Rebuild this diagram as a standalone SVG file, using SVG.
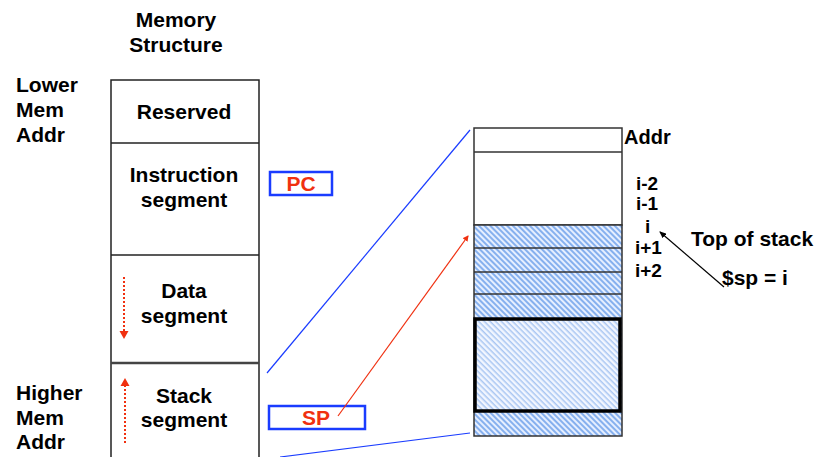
<svg xmlns="http://www.w3.org/2000/svg" width="816" height="457" viewBox="0 0 816 457">
<style>
text{font-family:"Liberation Sans",Arial,sans-serif;font-weight:bold;fill:#000}
.t18{font-size:21px}
.t19{font-size:19px}
.c{text-anchor:middle}
.red{fill:#f03010}
.seg{fill:none;stroke:#222;stroke-width:1.5}
.ptr{fill:#fff;stroke:#1a3cff;stroke-width:2.5}
.cell{stroke:#333;stroke-width:1.5}
</style>
<defs>
<pattern id="hatch" width="4" height="4" patternUnits="userSpaceOnUse" patternTransform="rotate(45)">
<rect width="4" height="4" fill="#e6efff"/>
<rect width="4" height="2" fill="#86b0ee"/>
</pattern>
<pattern id="hatchL" width="4" height="4" patternUnits="userSpaceOnUse" patternTransform="rotate(45)">
<rect width="4" height="4" fill="#f2f6ff"/>
<rect width="4" height="1.5" fill="#a9c6f2"/>
</pattern>
<marker id="ra" markerWidth="6" markerHeight="6" refX="5" refY="3" orient="auto" markerUnits="userSpaceOnUse">
<path d="M0,0 L6,3 L0,6 Z" fill="#f03010"/>
</marker>
<marker id="ba" markerWidth="7" markerHeight="6" refX="6" refY="3" orient="auto" markerUnits="userSpaceOnUse">
<path d="M0,0 L7,3 L0,6 Z" fill="#000"/>
</marker>
</defs>

<g id="title">
<text class="t18 c" x="176" y="27">Memory</text>
<text class="t18 c" x="176" y="52">Structure</text>
</g>
<g id="lower-label">
<text class="t18" x="16" y="92">Lower</text>
<text class="t18" x="16" y="117">Mem</text>
<text class="t18" x="16" y="142">Addr</text>
</g>
<g id="higher-label">
<text class="t18" x="16" y="400">Higher</text>
<text class="t18" x="16" y="425">Mem</text>
<text class="t18" x="16" y="449">Addr</text>
</g>

<g id="memory">
<path class="seg" d="M111,460 V80 H259 V460"/>
<line class="seg" x1="111" y1="143" x2="259" y2="143"/>
<line class="seg" x1="111" y1="255" x2="259" y2="255"/>
<line x1="111" y1="363" x2="259" y2="363" stroke="#444" stroke-width="2.5"/>
</g>
<g id="reserved"><text class="t18 c" x="184" y="119">Reserved</text></g>
<g id="instruction"><text class="t18 c" x="184" y="182">Instruction</text><text class="t18 c" x="184" y="207">segment</text></g>
<g id="data"><text class="t18 c" x="184" y="298">Data</text><text class="t18 c" x="184" y="323">segment</text></g>
<g id="stack"><text class="t18 c" x="184" y="403">Stack</text><text class="t18 c" x="184" y="427">segment</text></g>

<g id="pc"><rect class="ptr" x="270" y="172" width="62" height="23"/><text class="t18 c red" x="301" y="191">PC</text></g>
<g id="sp"><rect class="ptr" x="269" y="406" width="96" height="23"/><text class="t18 c red" x="316" y="425">SP</text></g>

<g id="stack-detail">
<rect x="474" y="128" width="148" height="97" fill="#fff" class="cell"/>
<line class="cell" x1="474" y1="152" x2="622" y2="152"/>
<rect x="474" y="225" width="148" height="211" fill="url(#hatch)" class="cell"/>
<line class="cell" x1="474" y1="248" x2="622" y2="248"/>
<line class="cell" x1="474" y1="272" x2="622" y2="272"/>
<line class="cell" x1="474" y1="294" x2="622" y2="294"/>
<rect x="475" y="319" width="145" height="92" fill="url(#hatchL)" stroke="#000" stroke-width="3.5"/>
</g>

<g id="addr-labels">
<text x="624" y="144" style="font-size:20px">Addr</text>
<text class="t19" x="636" y="190">i-2</text>
<text class="t19" x="636" y="210">i-1</text>
<text class="t19" x="645" y="233">i</text>
<text class="t19" x="635" y="254">i+1</text>
<text class="t19" x="635" y="277">i+2</text>
</g>
<g id="top-of-stack"><text class="t18" x="691" y="246">Top of stack</text></g>
<g id="sp-eq"><text class="t18" x="722" y="285">$sp = i</text></g>

<g id="connectors">
<line x1="267" y1="373" x2="470" y2="130" stroke="#1a3cff" stroke-width="1.2"/>
<line x1="280" y1="457" x2="470" y2="433" stroke="#1a3cff" stroke-width="1.2"/>
<line x1="338" y1="416" x2="468" y2="236" stroke="#f03010" stroke-width="1.2" marker-end="url(#ra)"/>
<line x1="724" y1="287" x2="660" y2="232" stroke="#000" stroke-width="1.2" marker-end="url(#ba)"/>
<line x1="124" y1="277" x2="124" y2="332" stroke="#f03010" stroke-width="2" stroke-dasharray="2,2"/>
<path d="M119.5,331 L128.5,331 L124,339 Z" fill="#f03010"/>
<line x1="125" y1="385" x2="125" y2="443" stroke="#f03010" stroke-width="2" stroke-dasharray="2,2"/>
<path d="M120.5,386 L129.5,386 L125,378 Z" fill="#f03010"/>
</g>
</svg>
